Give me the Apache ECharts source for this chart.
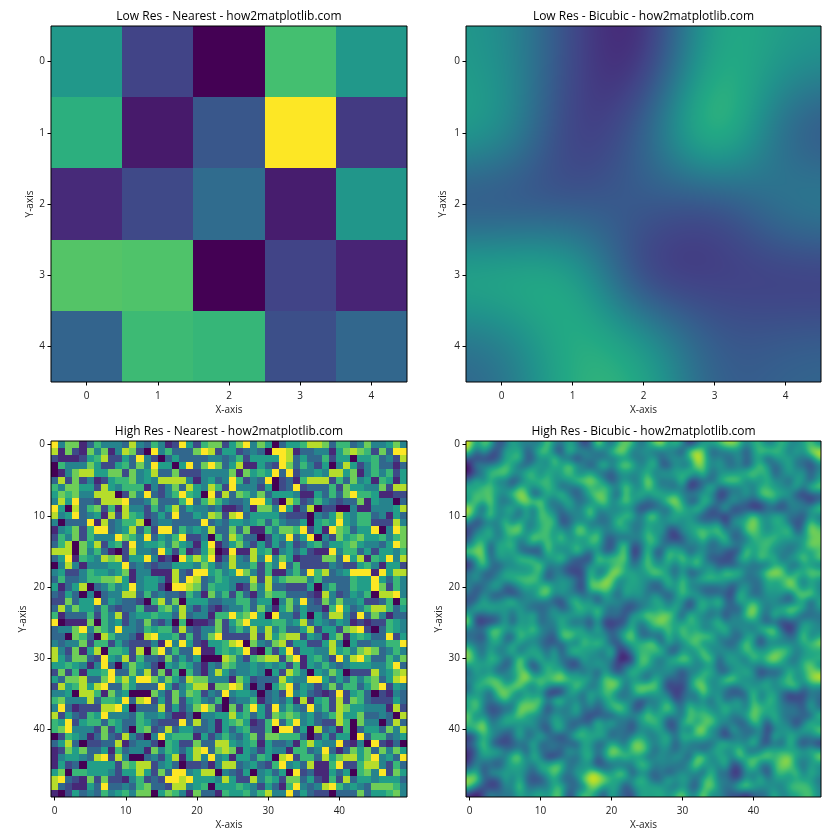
<!DOCTYPE html>
<html><head><meta charset="utf-8">
<style>html,body{margin:0;padding:0;background:#fff}#c{width:840px;height:840px}</style>
<script src="https://cdn.jsdelivr.net/npm/echarts@6/dist/echarts.min.js"></script>
</head><body><div id="c"></div>
<script>
const viridis=['#440154','#482475','#414487','#355f8d','#2a788e','#21918c','#22a884','#44bf70','#7ad151','#bddf26','#fde725'];
const lowCategories=[0,1,2,3,4];
const highCategories=Array.from({length:50},(_,i)=>i);
const lowValues=[
[.53,.2,0,.7,.53],
[.63,.07,.27,1,.17],
[.12,.22,.35,.08,.52],
[.73,.72,0,.2,.1],
[.32,.68,.66,.24,.33]];
// read on a 0..9 scale from the colours of the picture
const highValues=[
[9,4,7,7,1,3,6,4,4,4,3,8,4,3,6,4,1,2,9,5,2,6,7,7,2,5,7,9,4,7,5,0,3,5,5,6,8,8,7,3,6,6,3,4,7,4,4,5,7,4],
[8,1,7,2,1,7,4,7,1,4,8,7,2,0,9,4,6,3,3,3,7,9,8,2,5,5,2,3,4,3,0,9,9,8,1,3,3,4,4,1,5,7,8,7,6,2,7,3,9,9],
[2,1,1,1,2,5,6,8,2,2,5,3,9,4,2,0,3,5,3,3,3,3,4,4,3,4,6,2,5,5,5,5,9,8,3,5,3,3,6,2,5,5,0,5,5,6,3,4,2,8],
[0,6,4,4,4,7,5,2,2,5,6,3,7,4,9,5,5,0,5,9,3,7,9,7,3,5,8,1,1,5,3,2,9,7,3,6,4,2,5,0,4,8,5,2,4,6,3,3,1,3],
[0,1,4,7,8,8,5,5,7,7,2,7,4,5,8,3,3,7,2,2,2,4,4,4,4,7,1,7,5,6,5,9,3,9,2,4,4,5,4,8,8,5,7,1,4,6,4,6,2,5],
[3,8,2,7,2,4,1,2,5,6,6,7,4,5,4,8,8,8,8,4,1,4,5,3,4,9,6,2,4,3,9,0,2,3,1,6,8,8,8,2,6,3,7,4,5,1,6,5,1,5],
[6,4,7,7,5,5,2,8,5,4,6,6,6,1,4,2,4,7,3,8,5,4,8,6,2,9,4,4,4,2,5,0,2,3,9,2,3,3,3,6,2,7,5,5,4,4,7,2,8,8],
[5,7,6,7,4,4,8,8,8,0,2,7,4,9,3,2,4,6,9,6,5,0,9,2,8,3,7,6,4,7,3,5,5,5,4,1,1,5,3,6,3,7,9,6,6,5,1,1,2,2],
[4,8,5,9,3,3,2,8,8,8,9,3,3,4,7,3,3,3,6,9,3,6,8,6,4,3,3,4,9,9,5,2,0,8,6,2,3,6,4,3,2,3,3,7,1,5,4,4,0,3],
[9,5,0,8,3,6,7,2,6,1,8,4,4,2,6,3,5,8,3,5,4,4,3,4,1,1,2,4,1,7,7,4,9,5,1,3,8,0,2,2,0,0,4,1,1,4,4,4,5,8],
[8,4,5,9,3,4,5,1,8,2,8,6,5,2,3,5,3,9,3,3,5,4,8,7,2,8,9,3,5,5,5,5,3,2,2,2,0,4,3,5,8,5,4,6,6,3,4,1,5,3],
[4,0,3,3,3,9,1,8,3,4,6,6,8,0,3,4,4,3,3,3,3,9,3,4,3,5,5,4,5,6,3,6,4,3,3,5,0,5,6,5,9,5,4,6,6,2,2,2,8,4],
[1,4,5,7,2,6,9,9,3,4,5,8,3,6,2,9,9,3,6,4,5,4,8,3,3,7,3,7,1,1,6,4,7,7,6,9,2,5,1,9,7,6,3,5,5,9,0,4,9,7],
[2,6,4,7,2,6,4,4,4,9,7,6,4,9,3,5,4,6,9,2,2,4,0,6,3,8,6,3,3,0,2,5,4,9,3,5,9,0,4,2,7,5,6,7,5,5,6,4,6,7],
[3,6,8,0,7,5,8,2,5,6,2,9,4,5,5,6,4,7,5,4,1,5,9,1,3,5,7,4,2,5,2,5,3,5,2,3,5,6,3,5,5,6,7,5,4,4,3,5,9,7],
[8,8,8,0,7,4,6,3,1,0,2,8,4,4,3,9,5,2,6,1,2,5,8,0,1,9,1,1,8,5,6,1,4,5,3,5,2,1,1,9,4,6,6,3,5,2,5,5,4,6],
[3,5,9,1,6,5,4,8,7,8,2,5,5,9,4,1,2,0,9,6,8,6,9,1,3,8,4,3,8,4,9,4,7,5,1,2,2,2,7,7,3,9,5,8,1,6,5,9,4,8],
[0,4,8,4,1,4,4,4,5,5,9,3,4,3,2,3,3,5,5,5,4,7,5,3,4,8,4,4,6,2,6,4,9,3,6,2,2,2,2,4,3,2,2,5,6,4,1,5,5,2],
[4,5,2,2,4,6,5,5,4,5,7,1,4,4,1,1,1,8,3,2,9,9,5,6,4,5,9,7,4,2,6,1,1,4,6,3,9,6,8,3,4,5,9,9,9,1,9,5,8,8],
[3,6,3,3,4,6,6,7,7,8,5,1,4,5,5,4,1,8,3,9,8,3,4,6,5,4,4,4,8,2,8,4,6,7,7,7,4,6,3,3,3,3,6,5,5,9,5,3,6,4],
[5,1,3,5,8,0,3,4,6,4,5,9,4,5,5,2,0,9,9,8,7,3,6,5,5,4,1,2,7,4,8,3,3,2,2,2,5,0,4,6,3,3,6,5,5,9,7,2,6,4],
[3,2,5,3,0,4,0,3,4,4,8,8,3,6,3,4,3,3,2,6,4,1,7,4,6,2,6,3,1,4,7,6,6,3,3,3,2,1,8,4,2,3,5,4,6,0,8,8,9,4],
[2,2,7,3,5,5,9,3,5,4,3,3,2,0,6,8,3,7,0,5,5,5,3,3,4,4,6,6,3,5,5,0,4,7,4,9,3,2,7,4,7,4,4,5,2,2,3,6,0,6],
[3,8,4,7,5,5,3,6,3,2,3,3,6,2,2,6,7,4,8,4,2,4,2,1,3,4,4,6,3,7,4,1,5,7,3,5,3,3,1,6,9,5,3,4,6,8,8,6,3,5],
[6,1,3,3,3,6,2,6,4,8,2,4,5,5,6,5,5,3,8,3,4,4,1,6,6,9,6,7,9,5,0,9,4,4,2,5,0,5,3,8,8,4,2,9,3,7,4,1,3,3],
[9,0,1,1,1,7,0,6,4,5,2,4,3,7,3,2,4,0,6,0,1,1,2,7,2,5,7,9,5,5,5,6,6,4,5,8,3,5,4,3,5,4,1,2,1,2,2,6,5,4],
[3,4,4,7,9,4,7,6,4,9,4,4,3,6,5,6,6,2,8,3,2,4,4,7,2,4,6,4,8,4,8,4,6,3,3,5,8,2,5,5,2,7,8,9,2,0,3,6,5,4],
[3,3,0,7,6,3,0,8,6,4,4,3,1,8,9,5,5,6,2,6,2,4,7,9,2,2,2,2,8,2,8,5,7,8,8,2,5,4,1,5,7,1,5,6,5,3,3,9,2,5],
[4,3,4,4,7,2,6,6,2,5,3,2,2,2,4,1,9,4,9,5,2,1,5,5,6,8,9,0,7,4,3,7,8,2,5,5,2,2,5,8,4,0,5,3,3,4,4,6,6,9],
[8,4,2,7,1,5,8,0,6,6,5,2,8,0,7,9,3,6,3,3,9,1,1,5,6,5,6,9,1,0,6,2,5,9,2,5,5,4,4,8,5,6,4,7,8,7,3,4,6,4],
[8,5,3,7,7,3,2,9,5,4,8,2,6,3,3,2,7,3,5,3,5,0,0,0,8,7,4,2,6,7,8,8,2,7,9,1,5,6,4,2,9,4,8,9,6,3,3,6,4,7],
[5,5,6,5,4,1,4,9,3,0,4,7,5,4,2,0,5,4,6,5,3,1,4,3,7,6,4,4,5,4,5,4,5,2,6,1,5,4,6,4,3,4,5,5,5,4,4,6,9,3],
[2,7,2,6,1,5,5,6,9,3,3,7,4,8,2,7,1,6,0,6,3,1,4,8,5,3,4,4,5,4,0,5,2,8,6,4,0,5,4,7,5,0,2,2,2,8,4,5,7,8],
[5,3,7,7,8,3,3,7,9,6,8,5,9,9,7,4,7,5,3,8,7,7,4,4,4,1,7,5,2,3,3,3,8,5,4,4,9,9,5,3,5,3,6,4,6,7,3,5,8,9],
[2,8,5,6,8,5,8,9,3,3,7,5,3,3,3,9,5,2,4,6,8,8,1,7,7,9,8,4,0,3,0,5,7,9,3,5,4,2,4,7,3,6,6,3,5,7,9,2,5,4],
[4,4,5,0,8,8,6,1,7,4,5,0,0,0,7,4,2,7,4,7,6,2,4,3,9,4,5,5,4,0,3,4,2,9,4,5,3,2,1,2,9,2,5,6,3,0,2,1,4,3],
[6,7,4,4,4,8,3,6,6,5,9,3,8,9,2,5,2,7,2,5,6,4,3,6,0,3,4,4,6,1,3,4,3,5,1,8,1,5,6,2,8,2,7,6,3,2,2,2,5,3],
[4,9,3,1,2,2,2,8,8,9,5,0,3,3,3,8,2,5,2,4,7,9,7,2,0,7,2,6,9,5,2,9,4,6,4,3,9,4,6,2,8,7,5,5,4,4,4,1,8,2],
[8,2,5,3,2,6,5,9,4,4,4,3,6,4,4,5,3,1,1,3,0,4,4,5,5,8,5,6,3,5,2,7,6,7,6,4,5,3,4,6,8,5,5,7,3,3,4,3,0,8],
[6,5,9,2,5,6,6,3,6,5,3,3,6,5,3,2,2,2,9,3,8,3,4,1,5,6,7,5,1,2,6,9,3,6,9,4,5,3,2,2,8,6,0,7,4,4,0,3,8,3],
[6,7,9,4,4,4,2,7,2,5,3,0,6,7,2,3,8,3,5,5,3,3,4,1,5,3,5,6,2,2,6,0,9,9,2,5,0,8,3,4,1,6,0,3,5,5,3,7,4,8],
[0,2,6,5,4,1,3,7,3,2,8,4,2,0,4,9,5,6,6,6,1,5,2,4,6,4,3,5,7,2,7,7,6,6,6,3,0,2,5,2,5,5,0,9,3,6,6,3,4,5],
[3,5,8,3,0,2,2,3,3,8,1,3,4,4,2,0,6,5,2,2,7,3,3,8,8,5,4,5,6,1,5,3,3,4,1,6,8,5,4,4,9,2,1,4,0,9,2,1,3,0],
[1,2,7,5,7,3,3,5,1,6,3,4,4,1,7,4,6,5,3,5,8,9,3,7,8,7,1,5,4,2,5,4,4,1,6,6,3,4,9,3,1,3,7,5,7,3,7,4,7,5],
[1,4,5,5,4,3,8,9,2,8,4,0,0,3,4,2,5,8,1,5,8,4,9,4,5,1,5,5,3,6,5,0,8,9,2,6,6,3,8,5,7,8,8,5,7,9,4,5,3,9],
[1,5,2,3,0,5,5,5,5,2,7,6,8,8,2,4,5,3,0,2,2,3,1,4,8,8,3,4,5,3,2,6,9,4,5,3,8,1,1,6,9,2,2,6,8,8,4,2,6,3],
[5,7,0,6,6,5,5,5,4,2,5,5,8,5,2,7,3,9,9,4,5,8,8,0,4,3,2,5,0,4,5,3,5,0,9,2,3,1,1,5,3,5,0,6,7,4,9,2,7,5],
[8,9,3,2,1,7,2,7,2,2,1,4,6,2,3,2,9,9,8,9,5,5,5,4,8,5,2,2,8,4,6,5,2,7,7,3,5,2,1,6,2,8,3,5,5,4,5,5,5,3],
[8,3,2,1,1,5,3,9,3,3,4,3,6,7,3,3,2,8,8,4,5,6,0,5,5,5,6,5,4,2,5,3,1,6,9,4,3,4,8,9,6,4,5,4,3,7,7,7,6,4],
[1,0,2,5,3,4,3,6,4,5,6,4,7,7,0,5,7,6,4,1,7,3,3,1,6,5,5,6,4,6,8,4,4,9,3,5,3,2,2,0,3,3,3,7,3,5,5,6,7,4]];
const titles=['Low Res - Nearest - how2matplotlib.com','Low Res - Bicubic - how2matplotlib.com','High Res - Nearest - how2matplotlib.com','High Res - Bicubic - how2matplotlib.com'];
const FONT='"Open Sans"';

const rgb=viridis.map(h=>[1,3,5].map(i=>parseInt(h.substr(i,2),16)));
function colorAt(t){t=Math.max(0,Math.min(1,t))*10;const i=Math.min(9,Math.floor(t)),f=t-i;
  return [0,1,2].map(k=>rgb[i][k]+(rgb[i+1][k]-rgb[i][k])*f);}
function toCells(g){const out=[];g.forEach((row,r)=>row.forEach((v,c)=>out.push([c,r,v])));return out;}
// Display resampling of a cell: smooth the grid at every screen pixel, as imshow's interpolation does
function cellImage(grid,scale,sigma,c,r,w,h){
  const cv=document.createElement('canvas');cv.width=w;cv.height=h;
  const ctx=cv.getContext('2d'),img=ctx.createImageData(w,h);
  const n=grid.length,R=Math.ceil(sigma*3);let p=0;
  for(let py=0;py<h;py++)for(let px=0;px<w;px++){
    const u=c-.5+(px+.5)/w,v=r-.5+(py+.5)/h;let s=0,ws=0;
    for(let y=r-R;y<=r+R;y++)for(let x=c-R;x<=c+R;x++){
      const wt=Math.exp(-((x-u)*(x-u)+(y-v)*(y-v))/(2*sigma*sigma));
      const gy=Math.max(0,Math.min(n-1,y)),gx=Math.max(0,Math.min(n-1,x));
      s+=grid[gy][gx]*wt;ws+=wt;}
    const col=colorAt(s/ws/scale);
    img.data[p++]=col[0];img.data[p++]=col[1];img.data[p++]=col[2];img.data[p++]=255;}
  ctx.putImageData(img,0,0);return cv;}
function smoothRender(grid,scale,sigma){return (params,api)=>{
  const c=api.value(0),r=api.value(1),ctr=api.coord([c,r]),s=api.size([1,1]);
  const x0=Math.round(ctr[0]-s[0]/2),x1=Math.round(ctr[0]+s[0]/2),y0=Math.round(ctr[1]-s[1]/2),y1=Math.round(ctr[1]+s[1]/2);
  return {type:'image',style:{image:cellImage(grid,scale,sigma,c,r,x1-x0,y1-y0),x:x0,y:y0,width:x1-x0,height:y1-y0}};
};}
function nearestRender(scale){return (params,api)=>{
  const c=api.value(0),r=api.value(1),ctr=api.coord([c,r]),s=api.size([1,1]);
  const x0=Math.round(ctr[0]-s[0]/2),x1=Math.round(ctr[0]+s[0]/2),y0=Math.round(ctr[1]-s[1]/2),y1=Math.round(ctr[1]+s[1]/2);
  const col=colorAt(api.value(2)/scale).map(Math.round);
  return {type:'rect',shape:{x:x0,y:y0,width:x1-x0,height:y1-y0},style:{fill:`rgb(${col})`}};
};}
const boxes=[[51,26,356,356],[466,26,355,356],[51,441,356,356],[466,441,355,356]];
const cats=[lowCategories,lowCategories,highCategories,highCategories];
const yGap=[15,18,23,22];
const opt={animation:false,backgroundColor:'#fff',title:[],grid:[],xAxis:[],yAxis:[],series:[]};
boxes.forEach((b,i)=>{
  opt.title.push({text:titles[i],left:b[0]+b[2]/2,top:b[1]-15,padding:0,textAlign:'center',textStyle:{fontFamily:FONT,fontSize:12,fontWeight:'normal',color:'#000'}});
  opt.grid.push({left:b[0],top:b[1],width:b[2],height:b[3],show:true,z:10,borderColor:'#000',borderWidth:1,backgroundColor:'transparent'});
  const step=i<2?1:10;
  const show=(k)=>k%step===0;
  const axis={type:'category',data:cats[i],gridIndex:i,boundaryGap:true,
    axisLine:{show:false},splitLine:{show:false},
    axisTick:{show:true,alignWithLabel:true,length:3.5,interval:show,lineStyle:{color:'#000',width:1}},
    nameLocation:'middle',nameTextStyle:{fontFamily:FONT,fontSize:10,color:'#222'}};
  const label={interval:show,fontFamily:FONT,fontSize:10,color:'#222'};
  opt.xAxis.push(Object.assign({},axis,{position:'bottom',name:'X-axis',nameGap:23,axisLabel:Object.assign({},label,{margin:9})}));
  opt.yAxis.push(Object.assign({},axis,{position:'left',inverse:true,name:'Y-axis',nameGap:yGap[i],axisLabel:Object.assign({},label,{margin:6,padding:[5,0,0,0]})}));
});
const grids=[lowValues,lowValues,highValues,highValues],scales=[1,1,9,9];
grids.forEach((g,i)=>{
  const smooth=i%2===1;
  opt.series.push({type:'custom',name:titles[i],xAxisIndex:i,yAxisIndex:i,progressive:0,clip:false,silent:true,
    encode:{x:0,y:1},data:toCells(g),
    renderItem:smooth?smoothRender(g,scales[i],i===1?.62:.72):nearestRender(scales[i])});
});
const chart=echarts.init(document.getElementById('c'),null,{renderer:'canvas'});
chart.setOption(opt);
</script></body></html>
